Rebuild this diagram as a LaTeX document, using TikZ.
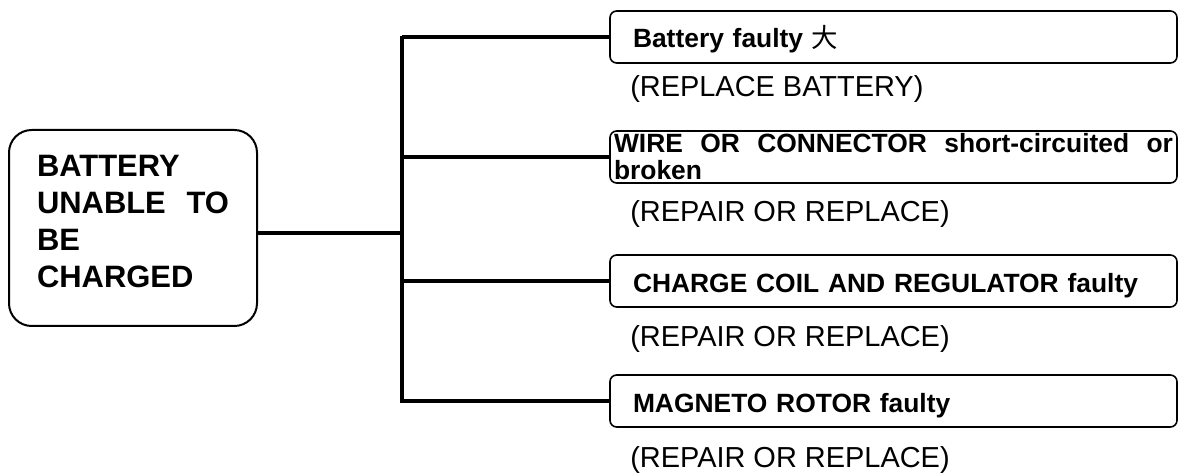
\documentclass[tikz,border=0pt]{standalone}
\usepackage{fontspec}
\newfontfamily\arialfont{Liberation Sans}
\newfontfamily\cjkfont{Noto Sans CJK SC}

\begin{document}
\begin{tikzpicture}[x=0.75pt,y=-0.75pt,
  feed/.style={line width=3pt},
  cause/.style={draw,line width=1.2pt,rounded corners=5pt,fill=white,minimum width=425.25pt,minimum height=39pt,inner ysep=0pt,font=\arialfont\bfseries\fontsize{19.8}{20.25}\selectfont},
  causeline/.style={cause,inner xsep=17.25pt,text width=390.75pt,align=left,text height=20pt,text depth=3.5pt},
  fix/.style={anchor=base west,inner sep=0pt,font=\arialfont\fontsize{21.7}{26}\selectfont}]
\path[use as bounding box] (0,0) rectangle (1183,474);
% symptom
\node[draw,line width=1.5pt,rounded corners=17pt,minimum width=186pt,minimum height=147pt,inner xsep=21pt,text width=144pt,align=left,font=\arialfont\bfseries\fontsize{23.2}{27.75}\selectfont] (lbox) at (133,228)
  {BATTERY\\ \leavevmode\hbox to 144pt{UNABLE\hfil TO}\\ BE\\ CHARGED\rule[-9.75pt]{0pt}{9.75pt}};
% causes
\node[causeline] (b1) at (893.5,37) {Battery faulty {\cjkfont\mdseries 大}};
\node[cause,inner xsep=3pt,text width=419.25pt,align=left] (b2) at (893.5,157)
  {\leavevmode\hbox to\hsize{WIRE\hfil OR\hfil CONNECTOR\hfil short-circuited\hfil or}\\ broken};
\node[causeline] (b3) at (893.5,281) {CHARGE COIL AND REGULATOR faulty};
\node[causeline] (b4) at (893.5,401) {MAGNETO ROTOR faulty};
% remedies
\node[fix] (r1) at (630,97) {(REPLACE BATTERY)};
\node[fix] (r2) at (630,222) {(REPAIR OR REPLACE)};
\node[fix] (r3) at (630,347) {(REPAIR OR REPLACE)};
\node[fix] (r4) at (630,467) {(REPAIR OR REPLACE)};
% connectors
\coordinate (spinetop) at (402,36);
\coordinate (spinebot) at (402,403);
\coordinate (join) at (402,233);
\draw[feed] (spinetop) -- (spinebot);
\draw[feed] (lbox.east |- join) -- (join);
\foreach \b in {b1,b2,b3,b4}
  \draw[feed] (spinetop |- \b.west) -- (\b.west);
\end{tikzpicture}
\end{document}
